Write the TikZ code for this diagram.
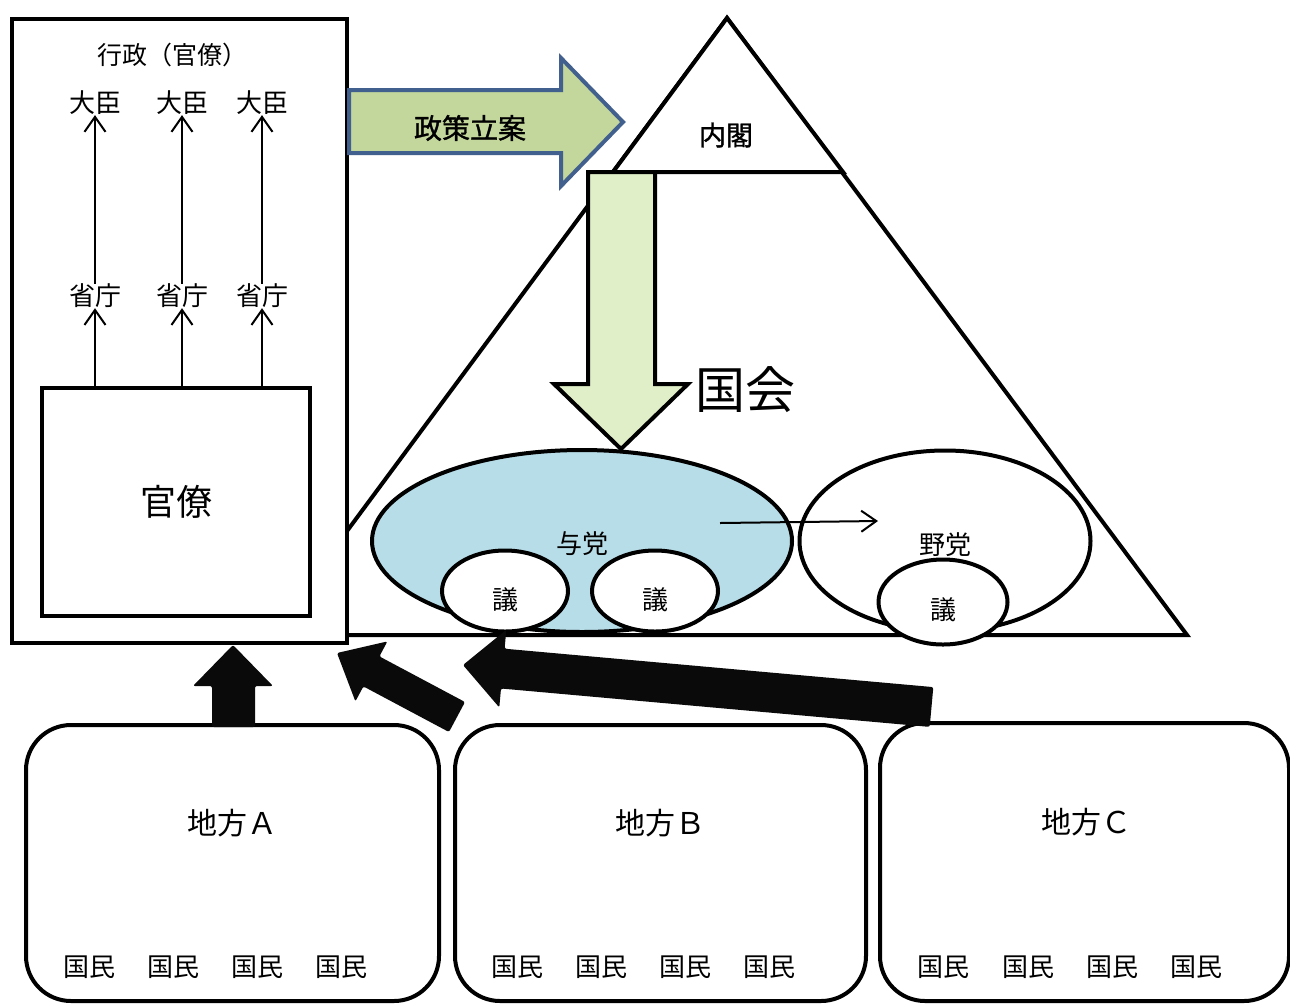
\documentclass[tikz,border=0pt]{standalone}
\usepackage{fontspec}
\setmainfont{Noto Sans CJK JP}
\newfontfamily\gothicbold[FakeBold=1.2]{Noto Sans CJK JP}
\usetikzlibrary{arrows.meta,shapes.geometric}
\definecolor{policygreen}{HTML}{C3D69B}
\definecolor{policyblue}{HTML}{41608E}
\definecolor{downgreen}{HTML}{E0EFC8}
\definecolor{yotoblue}{HTML}{B7DDE8}
\definecolor{blockblack}{HTML}{0A0A0A}
\begin{document}
\begin{tikzpicture}[x=1pt,y=-1pt,
  heavy/.style={line width=4pt, line join=miter},
  txt/.style={inner sep=0pt, font=\fontsize{#1}{#1}\selectfont},
  txt/.default=26,
  thinarrow/.style={line width=2pt, -{Straight Barb[length=15pt,width=21pt,line width=2pt]}},
  partybox/.style={ellipse, draw, line width=4pt, inner sep=0pt},
  regionbox/.style={draw, line width=4pt, rounded corners=45pt, inner sep=0pt},
  blockarrow/.style={fill=blockblack, rounded corners=2pt}]
\useasboundingbox (0,0) rectangle (1290,1005);
\fill[white] (0,0) rectangle (1290,1005);

% Diet (big triangle) and Cabinet (small triangle)
\coordinate (apex) at (727,18);
\coordinate (bl) at (270,635);
\coordinate (br) at (1187,635);
\draw[heavy] (apex) -- (br) -- (bl) -- cycle;
\draw[heavy, fill=white] (apex) -- (613,172) -- (843,172) -- cycle;
\node[txt=27, font=\gothicbold\fontsize{27}{27}\selectfont] (naikaku) at (726,135) {内閣};

% Administration box
\draw[heavy, fill=white] (12,19) rectangle (347,643);
\node[txt=25] (gyosei) at (172,55) {行政（官僚）};
\node[txt=26] (d1) at (95,103) {大臣};
\node[txt=26] (d2) at (182,103) {大臣};
\node[txt=26] (d3) at (262,103) {大臣};
\node[txt=26] (s1) at (95,296) {省庁};
\node[txt=26] (s2) at (182,296) {省庁};
\node[txt=26] (s3) at (262,296) {省庁};
\node[draw, line width=4pt, minimum width=268pt, minimum height=228pt, inner sep=0pt,
      font=\fontsize{36}{36}\selectfont] (kanryo) at (176,502) {官僚};
\foreach \i in {1,2,3}{
  \draw[thinarrow] (s\i.south |- kanryo.north) -- (s\i.south);
  \draw[thinarrow] (s\i.north) -- (d\i.south);
}

% Policy arrow
\draw[heavy, draw=policyblue, fill=policygreen]
  (349,90) -- (561,90) -- (561,58) -- (623,122) -- (561,186) -- (561,153) -- (349,153) -- cycle;
\node[txt=28, font=\gothicbold\fontsize{28}{28}\selectfont] (seisaku) at (470,128) {政策立案};

% Down arrow
\draw[heavy, fill=downgreen]
  (588,172) -- (655,172) -- (655,384) -- (688,384) -- (621,449) -- (554,384) -- (588,384) -- cycle;
\node[txt=50] (kokkai) at (745,390) {国会};

% Parties
\node[partybox, fill=yotoblue, minimum width=420pt, minimum height=182pt] (yoto) at (582,541) {};
\node[txt=26] (yotolbl) at (582,544) {与党};
\node[partybox, fill=white, minimum width=126pt, minimum height=81pt] (g1) at (505,591) {};
\node[partybox, fill=white, minimum width=126pt, minimum height=81pt] (g2) at (655,591) {};
\node[partybox, minimum width=291pt, minimum height=181pt] (yato) at (945,541) {};
\node[txt=26] (yatolbl) at (945,545) {野党};
\node[partybox, fill=white, minimum width=129pt, minimum height=85pt] (g3) at (943,602) {};
\node[txt=26, yshift=-9pt] (g1lbl) at (g1.center) {議};
\node[txt=26, yshift=-9pt] (g2lbl) at (g2.center) {議};
\node[txt=26, yshift=-8pt] (g3lbl) at (g3.center) {議};
\coordinate (ya) at (720,523);
\coordinate (yb) at (878,521);
\draw[thinarrow] (ya) -- (yb);

% Regions
\node[regionbox, minimum width=413pt, minimum height=276pt] (ra) at (232.5,863) {};
\node[regionbox, minimum width=411pt, minimum height=276pt] (rb) at (660.5,863) {};
\node[regionbox, minimum width=409pt, minimum height=278pt] (rc) at (1084.5,862) {};
\node[txt=30] (la) at (232,823) {地方Ａ};
\node[txt=30] (lb) at (660,823) {地方Ｂ};
\node[txt=30] (lc) at (1086,822) {地方Ｃ};
\foreach \x [count=\k] in {89,173,257,341}{
  \node[txt=26] (ka\k) at (\x,967) {国民};
}
\foreach \x [count=\k] in {517,601,685,769}{
  \node[txt=26] (kb\k) at (\x,967) {国民};
}
\foreach \x [count=\k] in {943,1028,1112,1196}{
  \node[txt=26] (kc\k) at (\x,967) {国民};
}

% Block arrows
\fill[blockarrow] (233,645) -- (273,686) -- (255,686) -- (255,727) -- (212,727) -- (212,686) -- (193,686) -- cycle;
\fill[blockarrow] (337,653) -- (387.4,641.4) -- (379.4,656.4) -- (465,702) -- (449,732) -- (363.4,686.4) -- (355.4,701.4) -- cycle;
\fill[blockarrow] (463,665) -- (506.3,629.8) -- (504.6,648.7) -- (933.3,687.1) -- (929.7,726.9) -- (501,688.5) -- (499.3,707.4) -- cycle;
\end{tikzpicture}
\end{document}
